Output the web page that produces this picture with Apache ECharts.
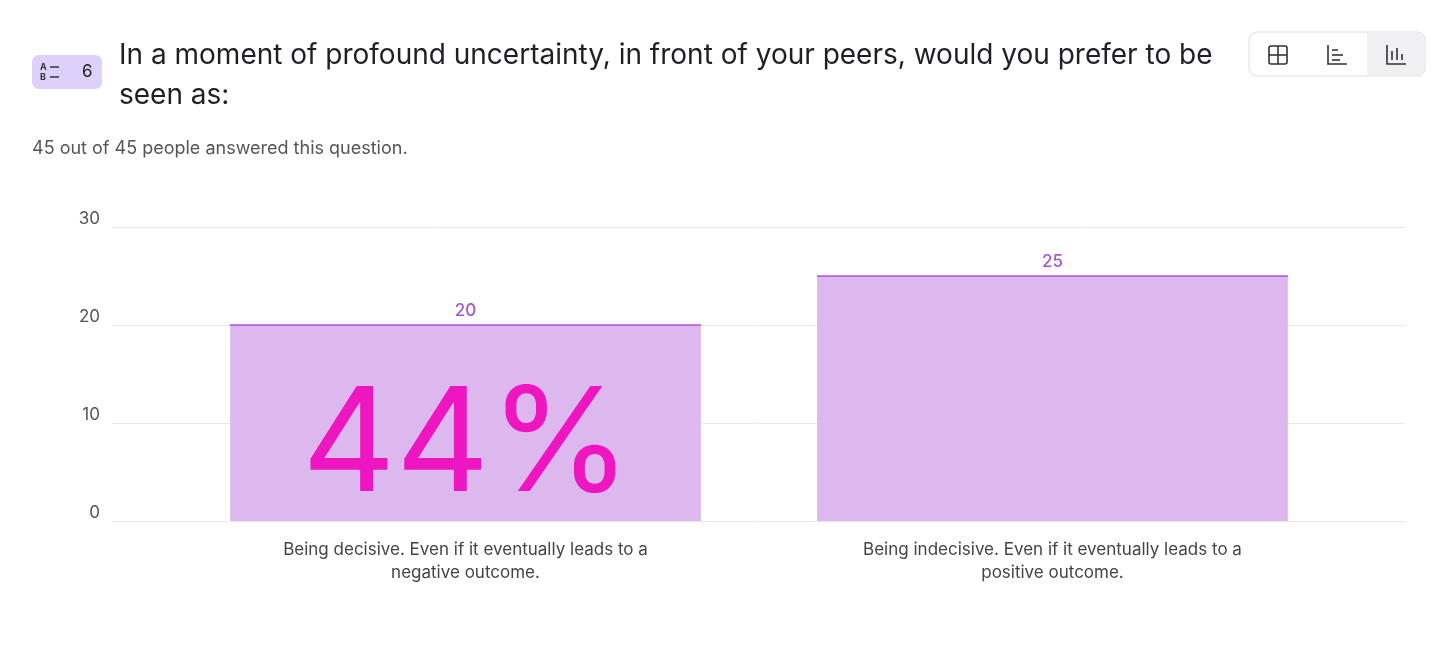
<!DOCTYPE html>
<html>
<head>
<meta charset="utf-8">
<script src="https://cdn.jsdelivr.net/npm/echarts@6/dist/echarts.min.js"></script>
<style>
  html, body { margin: 0; padding: 0; background: #fff; }
  #main { width: 1456px; height: 655px; }
</style>
</head>
<body>
<div id="main"></div>
<script>
var categories = ['Being decisive. Even if it eventually leads to a\nnegative outcome.',
                  'Being indecisive. Even if it eventually leads to a\npositive outcome.'];
var counts = [20, 25];
var yTicks = [0, 10, 20, 30];
var bigLabel = '44%';

var font = '"Inter", "Noto Sans", sans-serif';
var chart = echarts.init(document.getElementById('main'));

function icon(x, y, kind, children) {
    var s = { stroke: '#333', lineWidth: 1.6, fill: null };
    if (kind === 'table') {
        children.push({ type: 'rect', shape: { x: x - 9, y: y - 9, width: 18, height: 18, r: 2 }, style: s });
        children.push({ type: 'line', shape: { x1: x, y1: y - 9, x2: x, y2: y + 9 }, style: s });
        children.push({ type: 'line', shape: { x1: x - 9, y1: y, x2: x + 9, y2: y }, style: s });
    } else if (kind === 'hbar') {
        children.push({ type: 'polyline', shape: { points: [[x - 9, y - 10], [x - 9, y + 9], [x + 10, y + 9]] }, style: s });
        children.push({ type: 'line', shape: { x1: x - 5, y1: y - 5, x2: x + 1, y2: y - 5 }, style: s });
        children.push({ type: 'line', shape: { x1: x - 5, y1: y, x2: x + 6, y2: y }, style: s });
        children.push({ type: 'line', shape: { x1: x - 5, y1: y + 5, x2: x + 3, y2: y + 5 }, style: s });
    } else {
        children.push({ type: 'polyline', shape: { points: [[x - 9, y - 10], [x - 9, y + 9], [x + 10, y + 9]] }, style: s });
        children.push({ type: 'line', shape: { x1: x - 4, y1: y + 5, x2: x - 4, y2: y - 4 }, style: s });
        children.push({ type: 'line', shape: { x1: x + 1, y1: y + 5, x2: x + 1, y2: y - 7 }, style: s });
        children.push({ type: 'line', shape: { x1: x + 6, y1: y + 5, x2: x + 6, y2: y - 1 }, style: s });
    }
}

var graphics = [
    { type: 'rect', shape: { x: 32, y: 55, width: 70, height: 34, r: 7 }, style: { fill: '#ddd1fb' } },
    { type: 'text', left: 40, top: 62, style: { text: 'A\nB', font: 'bold 9px ' + font, fill: '#333', lineHeight: 10 } },
    { type: 'line', shape: { x1: 50, y1: 67, x2: 59, y2: 67 }, style: { stroke: '#333', lineWidth: 1.5 } },
    { type: 'line', shape: { x1: 50, y1: 77, x2: 59, y2: 77 }, style: { stroke: '#333', lineWidth: 1.5 } },
    { type: 'text', left: 82, top: 63, style: { text: '6', font: '17px ' + font, fill: '#222' } },
    { type: 'text', left: 119, top: 36, style: { text: 'In a moment of profound uncertainty, in front of your peers, would you prefer to be\nseen as:', font: '28px ' + font, fill: '#1f1f24', lineHeight: 40 } },
    { type: 'text', left: 32, top: 140, style: { text: '45 out of 45 people answered this question.', font: '18px ' + font, fill: '#555' } },
    { type: 'rect', shape: { x: 1249, y: 32, width: 176, height: 44, r: 8 }, style: { fill: '#fff', stroke: '#ddd', lineWidth: 1 } },
    { type: 'rect', shape: { x: 1367, y: 33, width: 57, height: 42, r: [0, 7, 7, 0] }, style: { fill: '#f0f0f2' } },
    { type: 'text', left: 302, top: 375, z: 10, style: { text: bigLabel, font: '145px ' + font, fill: '#ee16c0' } }
];
icon(1278, 55, 'table', graphics);
icon(1337, 55, 'hbar', graphics);
icon(1396, 55, 'vbar', graphics);

chart.setOption({
    animation: false,
    textStyle: { fontFamily: font },
    grid: [
        { left: 112, right: 51, top: 227, bottom: 134 },
        { left: 172, right: 110, top: 227, bottom: 134 }
    ],
    xAxis: [
        { gridIndex: 0, type: 'value', show: false, min: 0, max: 1 },
        {
            gridIndex: 1, type: 'category', data: categories,
            axisLine: { show: false }, axisTick: { show: false },
            axisLabel: { color: '#444', fontSize: 17, lineHeight: 23, margin: 17 }
        }
    ],
    yAxis: [
        {
            gridIndex: 0, type: 'value', min: yTicks[0], max: yTicks[yTicks.length - 1], interval: 10,
            axisLine: { show: false }, axisTick: { show: false },
            axisLabel: { color: '#555', fontSize: 17, margin: 12, verticalAlign: 'bottom' },
            splitLine: { lineStyle: { color: '#e8e8e8' } }
        },
        {
            gridIndex: 1, type: 'value', min: yTicks[0], max: yTicks[yTicks.length - 1],
            show: false, splitLine: { show: false }
        }
    ],
    series: [{
        type: 'bar', xAxisIndex: 1, yAxisIndex: 1,
        data: counts, barWidth: '80.2%',
        itemStyle: { color: '#dcb8ee', borderColor: '#dcb8ee', borderWidth: 0 },
        label: { show: true, position: 'top', color: '#a557d6', fontSize: 17, fontWeight: 500, distance: 6 },
        markLine: { show: false }
    }, {
        type: 'scatter', xAxisIndex: 1, yAxisIndex: 1, symbol: 'rect',
        symbolSize: [471, 1.5], data: counts,
        itemStyle: { color: '#9a2fd6' }, silent: true
    }],
    graphic: graphics
});
</script>
</body>
</html>
